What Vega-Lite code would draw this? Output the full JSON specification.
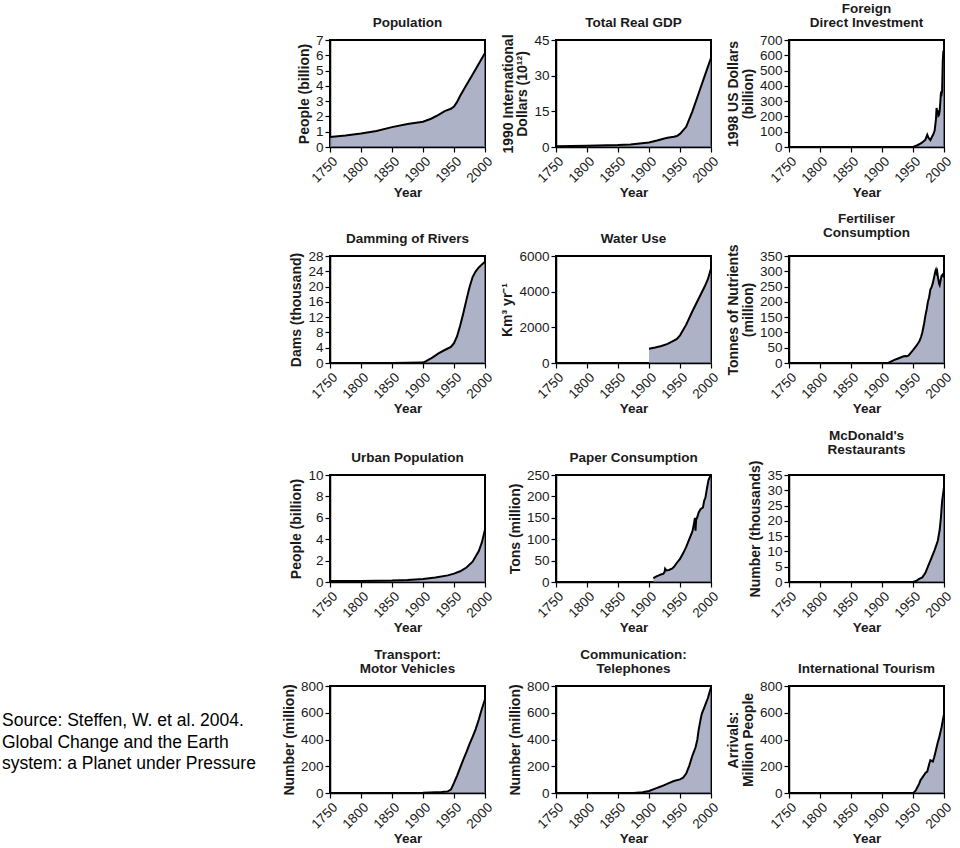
{
  "$schema": "https://vega.github.io/schema/vega-lite/v6.json",
  "padding": {"left": 2, "top": 0, "right": 2, "bottom": 0},
  "background": "white",
  "datasets": {
    "pop": [{"year":1750,"value":0.65},{"year":1775,"value":0.75},{"year":1800,"value":0.88},{"year":1825,"value":1.05},{"year":1850,"value":1.3},{"year":1875,"value":1.5},{"year":1900,"value":1.65},{"year":1913,"value":1.85},{"year":1925,"value":2.1},{"year":1935,"value":2.35},{"year":1945,"value":2.5},{"year":1950,"value":2.65},{"year":1955,"value":2.95},{"year":1960,"value":3.35},{"year":1970,"value":4.05},{"year":1980,"value":4.75},{"year":1990,"value":5.45},{"year":2000,"value":6.15}],
    "gdp": [{"year":1750,"value":0.35},{"year":1800,"value":0.5},{"year":1850,"value":0.8},{"year":1870,"value":1.1},{"year":1900,"value":1.9},{"year":1913,"value":2.7},{"year":1925,"value":3.6},{"year":1930,"value":3.9},{"year":1940,"value":4.3},{"year":1945,"value":4.6},{"year":1950,"value":5.5},{"year":1955,"value":7},{"year":1960,"value":8.5},{"year":1970,"value":15},{"year":1980,"value":22.5},{"year":1990,"value":30},{"year":2000,"value":37.5}],
    "fdi": [{"year":1950,"value":0},{"year":1955,"value":8},{"year":1960,"value":18},{"year":1965,"value":30},{"year":1970,"value":48},{"year":1973,"value":80},{"year":1975,"value":60},{"year":1978,"value":45},{"year":1980,"value":62},{"year":1983,"value":85},{"year":1985,"value":110},{"year":1987,"value":180},{"year":1988,"value":255},{"year":1989,"value":230},{"year":1990,"value":240},{"year":1991,"value":205},{"year":1992,"value":210},{"year":1993,"value":235},{"year":1994,"value":290},{"year":1995,"value":350},{"year":1996,"value":345},{"year":1997,"value":370},{"year":1998,"value":560},{"year":1999,"value":630},{"year":2000,"value":600}],
    "dams": [{"year":1750,"value":0},{"year":1800,"value":0},{"year":1850,"value":0},{"year":1900,"value":0.1},{"year":1905,"value":0.5},{"year":1915,"value":1.4},{"year":1925,"value":2.5},{"year":1935,"value":3.4},{"year":1945,"value":4.2},{"year":1950,"value":5.2},{"year":1955,"value":7},{"year":1960,"value":9.8},{"year":1965,"value":13},{"year":1970,"value":16.5},{"year":1975,"value":19.8},{"year":1980,"value":22.5},{"year":1985,"value":24},{"year":1990,"value":25},{"year":1995,"value":25.8},{"year":2000,"value":26.5}],
    "water": [{"year":1900,"value":800},{"year":1910,"value":870},{"year":1920,"value":950},{"year":1930,"value":1070},{"year":1940,"value":1250},{"year":1945,"value":1350},{"year":1950,"value":1550},{"year":1960,"value":2150},{"year":1970,"value":2900},{"year":1980,"value":3600},{"year":1990,"value":4300},{"year":1995,"value":4700},{"year":2000,"value":5300}],
    "fert": [{"year":1910,"value":0},{"year":1915,"value":5},{"year":1920,"value":10},{"year":1925,"value":14},{"year":1930,"value":18},{"year":1935,"value":22},{"year":1938,"value":23},{"year":1940,"value":22},{"year":1943,"value":25},{"year":1947,"value":35},{"year":1950,"value":42},{"year":1955,"value":55},{"year":1960,"value":70},{"year":1963,"value":85},{"year":1965,"value":100},{"year":1968,"value":130},{"year":1970,"value":155},{"year":1972,"value":175},{"year":1974,"value":200},{"year":1976,"value":215},{"year":1978,"value":240},{"year":1980,"value":248},{"year":1982,"value":262},{"year":1984,"value":280},{"year":1986,"value":300},{"year":1987,"value":305},{"year":1988,"value":295},{"year":1989,"value":300},{"year":1990,"value":285},{"year":1992,"value":260},{"year":1993,"value":255},{"year":1995,"value":275},{"year":1996,"value":285},{"year":1998,"value":290},{"year":2000,"value":280}],
    "urban": [{"year":1750,"value":0.1},{"year":1800,"value":0.1},{"year":1850,"value":0.13},{"year":1875,"value":0.18},{"year":1900,"value":0.28},{"year":1920,"value":0.42},{"year":1940,"value":0.62},{"year":1950,"value":0.78},{"year":1960,"value":1.0},{"year":1970,"value":1.35},{"year":1980,"value":1.9},{"year":1990,"value":2.9},{"year":1995,"value":3.7},{"year":2000,"value":4.9}],
    "paper": [{"year":1907,"value":9},{"year":1912,"value":13},{"year":1915,"value":15},{"year":1920,"value":18},{"year":1923,"value":19},{"year":1925,"value":23},{"year":1926,"value":31},{"year":1928,"value":27},{"year":1932,"value":28},{"year":1937,"value":31},{"year":1940,"value":35},{"year":1945,"value":45},{"year":1950,"value":54},{"year":1955,"value":67},{"year":1960,"value":82},{"year":1965,"value":100},{"year":1970,"value":118},{"year":1973,"value":140},{"year":1974,"value":150},{"year":1975,"value":120},{"year":1976,"value":145},{"year":1978,"value":152},{"year":1980,"value":162},{"year":1983,"value":170},{"year":1987,"value":174},{"year":1989,"value":190},{"year":1991,"value":197},{"year":1993,"value":215},{"year":1996,"value":238},{"year":1999,"value":248},{"year":2000,"value":250}],
    "mcd": [{"year":1950,"value":0},{"year":1955,"value":0.3},{"year":1960,"value":1},{"year":1965,"value":1.5},{"year":1970,"value":3},{"year":1975,"value":5.5},{"year":1980,"value":8},{"year":1985,"value":10.5},{"year":1990,"value":13.5},{"year":1993,"value":17},{"year":1995,"value":21},{"year":1997,"value":26.5},{"year":2000,"value":31}],
    "transport": [{"year":1750,"value":0},{"year":1800,"value":0},{"year":1850,"value":0},{"year":1900,"value":2},{"year":1920,"value":6},{"year":1930,"value":8},{"year":1940,"value":12},{"year":1945,"value":25},{"year":1950,"value":75},{"year":1955,"value":130},{"year":1960,"value":190},{"year":1965,"value":250},{"year":1970,"value":305},{"year":1975,"value":365},{"year":1980,"value":420},{"year":1985,"value":478},{"year":1990,"value":550},{"year":1995,"value":630},{"year":2000,"value":700}],
    "phones": [{"year":1875,"value":0},{"year":1890,"value":5},{"year":1900,"value":15},{"year":1910,"value":33},{"year":1920,"value":50},{"year":1930,"value":70},{"year":1940,"value":90},{"year":1950,"value":102},{"year":1955,"value":115},{"year":1960,"value":145},{"year":1965,"value":205},{"year":1970,"value":280},{"year":1975,"value":340},{"year":1978,"value":400},{"year":1980,"value":470},{"year":1983,"value":545},{"year":1985,"value":590},{"year":1990,"value":650},{"year":1995,"value":710},{"year":2000,"value":790}],
    "tourism": [{"year":1950,"value":0},{"year":1953,"value":10},{"year":1955,"value":25},{"year":1960,"value":70},{"year":1962,"value":95},{"year":1965,"value":115},{"year":1968,"value":135},{"year":1970,"value":150},{"year":1973,"value":160},{"year":1976,"value":215},{"year":1978,"value":245},{"year":1980,"value":240},{"year":1982,"value":235},{"year":1984,"value":265},{"year":1986,"value":300},{"year":1988,"value":340},{"year":1990,"value":380},{"year":1992,"value":410},{"year":1994,"value":450},{"year":1996,"value":490},{"year":1998,"value":540},{"year":2000,"value":590}],
    "note": [{"note":"Source: Steffen, W. et al. 2004.\nGlobal Change and the Earth\nsystem: a Planet under Pressure"}]
  },
  "spacing": 10,
  "hconcat": [
    {
      "width": 269, "height": 820,
      "view": {"stroke": null},
      "data": {"name": "note"},
      "mark": {"type": "text", "align": "left", "baseline": "middle", "fontSize": 17.5, "lineBreak": "\n", "lineHeight": 21.3, "font": "Liberation Sans", "color": "black"},
      "encoding": {
        "text": {"field": "note"},
        "x": {"datum": 0, "type": "quantitative", "scale": {"domain": [0, 1]}, "axis": null},
        "y": {"datum": 0.169, "type": "quantitative", "scale": {"domain": [0, 1]}, "axis": null}
      }
    },
    {
      "columns": 3,
      "spacing": {"row": 10, "column": 3},
      "concat": [
        {"title": "Population", "width": 155, "height": 107, "data": {"name": "pop"},
         "mark": {"type": "area", "color": "#8b91ae", "line": {"color": "black", "strokeWidth": 2}},
         "encoding": {
           "x": {"field": "year", "type": "quantitative", "scale": {"domain": [1750, 2000]}, "axis": {"title": "Year", "values": [1750,1800,1850,1900,1950,2000], "format": "d"}},
           "y": {"field": "value", "type": "quantitative", "scale": {"domain": [0, 7]}, "axis": {"title": "People (billion)", "values": [0,1,2,3,4,5,6,7]}}}},
        {"title": "Total Real GDP", "width": 155, "height": 107, "data": {"name": "gdp"},
         "mark": {"type": "area", "color": "#8b91ae", "line": {"color": "black", "strokeWidth": 2}},
         "encoding": {
           "x": {"field": "year", "type": "quantitative", "scale": {"domain": [1750, 2000]}, "axis": {"title": "Year", "values": [1750,1800,1850,1900,1950,2000], "format": "d"}},
           "y": {"field": "value", "type": "quantitative", "scale": {"domain": [0, 45]}, "axis": {"title": ["1990 International", "Dollars (10¹²)"], "values": [0,15,30,45]}}}},
        {"title": {"text": ["Foreign", "Direct Investment"]}, "width": 155, "height": 107, "data": {"name": "fdi"},
         "mark": {"type": "area", "color": "#8b91ae", "line": {"color": "black", "strokeWidth": 2}},
         "encoding": {
           "x": {"field": "year", "type": "quantitative", "scale": {"domain": [1750, 2000]}, "axis": {"title": "Year", "values": [1750,1800,1850,1900,1950,2000], "format": "d"}},
           "y": {"field": "value", "type": "quantitative", "scale": {"domain": [0, 700]}, "axis": {"title": ["1998 US Dollars", "(billion)"], "values": [0,100,200,300,400,500,600,700]}}}},
        {"title": "Damming of Rivers", "width": 155, "height": 107, "data": {"name": "dams"},
         "mark": {"type": "area", "color": "#8b91ae", "line": {"color": "black", "strokeWidth": 2}},
         "encoding": {
           "x": {"field": "year", "type": "quantitative", "scale": {"domain": [1750, 2000]}, "axis": {"title": "Year", "values": [1750,1800,1850,1900,1950,2000], "format": "d"}},
           "y": {"field": "value", "type": "quantitative", "scale": {"domain": [0, 28]}, "axis": {"title": "Dams (thousand)", "values": [0,4,8,12,16,20,24,28]}}}},
        {"title": "Water Use", "width": 155, "height": 107, "data": {"name": "water"},
         "mark": {"type": "area", "color": "#8b91ae", "line": {"color": "black", "strokeWidth": 2}},
         "encoding": {
           "x": {"field": "year", "type": "quantitative", "scale": {"domain": [1750, 2000]}, "axis": {"title": "Year", "values": [1750,1800,1850,1900,1950,2000], "format": "d"}},
           "y": {"field": "value", "type": "quantitative", "scale": {"domain": [0, 6000]}, "axis": {"title": "Km³ yr⁻¹", "values": [0,2000,4000,6000], "format": "d"}}}},
        {"title": {"text": ["Fertiliser", "Consumption"]}, "width": 155, "height": 107, "data": {"name": "fert"},
         "mark": {"type": "area", "color": "#8b91ae", "line": {"color": "black", "strokeWidth": 2}},
         "encoding": {
           "x": {"field": "year", "type": "quantitative", "scale": {"domain": [1750, 2000]}, "axis": {"title": "Year", "values": [1750,1800,1850,1900,1950,2000], "format": "d"}},
           "y": {"field": "value", "type": "quantitative", "scale": {"domain": [0, 350]}, "axis": {"title": ["Tonnes of Nutrients", "(million)"], "values": [0,50,100,150,200,250,300,350]}}}},
        {"title": "Urban Population", "width": 155, "height": 107, "data": {"name": "urban"},
         "mark": {"type": "area", "color": "#8b91ae", "line": {"color": "black", "strokeWidth": 2}},
         "encoding": {
           "x": {"field": "year", "type": "quantitative", "scale": {"domain": [1750, 2000]}, "axis": {"title": "Year", "values": [1750,1800,1850,1900,1950,2000], "format": "d"}},
           "y": {"field": "value", "type": "quantitative", "scale": {"domain": [0, 10]}, "axis": {"title": "People (billion)", "values": [0,2,4,6,8,10]}}}},
        {"title": "Paper Consumption", "width": 155, "height": 107, "data": {"name": "paper"},
         "mark": {"type": "area", "color": "#8b91ae", "line": {"color": "black", "strokeWidth": 2}},
         "encoding": {
           "x": {"field": "year", "type": "quantitative", "scale": {"domain": [1750, 2000]}, "axis": {"title": "Year", "values": [1750,1800,1850,1900,1950,2000], "format": "d"}},
           "y": {"field": "value", "type": "quantitative", "scale": {"domain": [0, 250]}, "axis": {"title": "Tons (million)", "values": [0,50,100,150,200,250]}}}},
        {"title": {"text": ["McDonald's", "Restaurants"]}, "width": 155, "height": 107, "data": {"name": "mcd"},
         "mark": {"type": "area", "color": "#8b91ae", "line": {"color": "black", "strokeWidth": 2}},
         "encoding": {
           "x": {"field": "year", "type": "quantitative", "scale": {"domain": [1750, 2000]}, "axis": {"title": "Year", "values": [1750,1800,1850,1900,1950,2000], "format": "d"}},
           "y": {"field": "value", "type": "quantitative", "scale": {"domain": [0, 35]}, "axis": {"title": "Number (thousands)", "values": [0,5,10,15,20,25,30,35]}}}},
        {"title": {"text": ["Transport:", "Motor Vehicles"]}, "width": 155, "height": 107, "data": {"name": "transport"},
         "mark": {"type": "area", "color": "#8b91ae", "line": {"color": "black", "strokeWidth": 2}},
         "encoding": {
           "x": {"field": "year", "type": "quantitative", "scale": {"domain": [1750, 2000]}, "axis": {"title": "Year", "values": [1750,1800,1850,1900,1950,2000], "format": "d"}},
           "y": {"field": "value", "type": "quantitative", "scale": {"domain": [0, 800]}, "axis": {"title": "Number (million)", "values": [0,200,400,600,800]}}}},
        {"title": {"text": ["Communication:", "Telephones"]}, "width": 155, "height": 107, "data": {"name": "phones"},
         "mark": {"type": "area", "color": "#8b91ae", "line": {"color": "black", "strokeWidth": 2}},
         "encoding": {
           "x": {"field": "year", "type": "quantitative", "scale": {"domain": [1750, 2000]}, "axis": {"title": "Year", "values": [1750,1800,1850,1900,1950,2000], "format": "d"}},
           "y": {"field": "value", "type": "quantitative", "scale": {"domain": [0, 800]}, "axis": {"title": "Number (million)", "values": [0,200,400,600,800]}}}},
        {"title": "International Tourism", "width": 155, "height": 107, "data": {"name": "tourism"},
         "mark": {"type": "area", "color": "#8b91ae", "line": {"color": "black", "strokeWidth": 2}},
         "encoding": {
           "x": {"field": "year", "type": "quantitative", "scale": {"domain": [1750, 2000]}, "axis": {"title": "Year", "values": [1750,1800,1850,1900,1950,2000], "format": "d"}},
           "y": {"field": "value", "type": "quantitative", "scale": {"domain": [0, 800]}, "axis": {"title": ["Arrivals:", "Million People"], "values": [0,200,400,600,800]}}}}
      ]
    }
  ],
  "config": {
    "font": "Liberation Sans",
    "view": {"stroke": "black", "strokeWidth": 2},
    "axis": {"grid": false, "domainColor": "black", "domainWidth": 1.5, "tickColor": "black", "tickSize": 5, "tickWidth": 1.2, "labelFont": "Liberation Sans", "labelFontSize": 13.5, "labelColor": "#1a1a1a", "labelOverlap": false, "labelFlush": false, "labelPadding": 2, "titleFont": "Liberation Sans", "titleFontSize": 14, "titleFontWeight": "bold", "titleColor": "#1a1a1a", "titlePadding": 4, "titleLineHeight": 14.5},
    "axisX": {"labelAngle": -45, "labelAlign": "right", "labelBaseline": "top", "titlePadding": 1, "titleFontSize": 13.5},
    "title": {"font": "Liberation Sans", "fontSize": 13.5, "fontWeight": "bold", "color": "#1a1a1a", "offset": 4, "lineHeight": 14}
  }
}
